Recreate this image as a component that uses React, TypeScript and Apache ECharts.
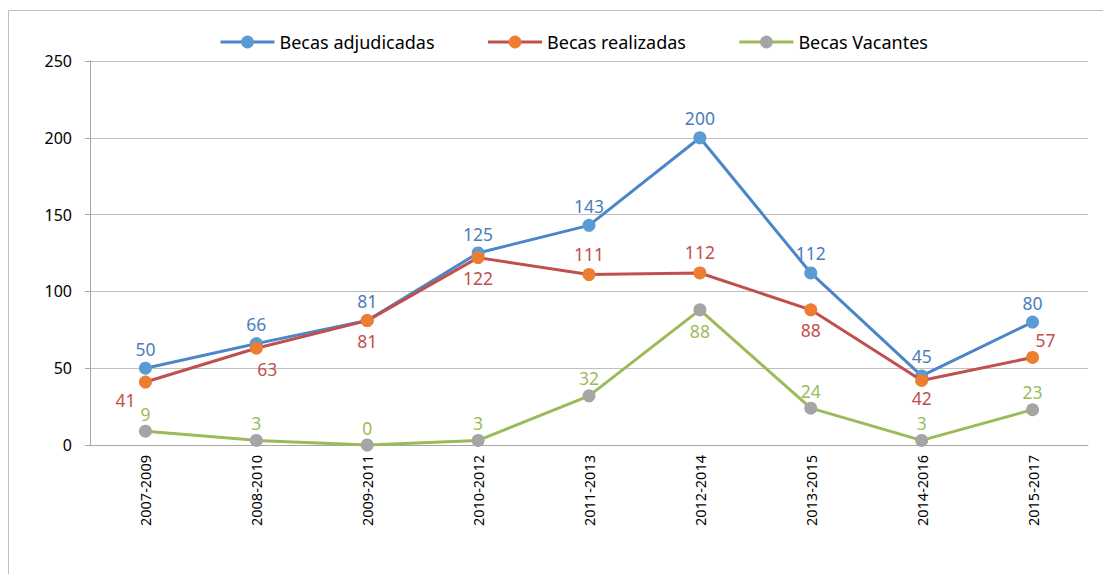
import React, { useEffect, useRef } from "react";
import * as echarts from "echarts";

const categories = ["2007-2009", "2008-2010", "2009-2011", "2010-2012", "2011-2013", "2012-2014", "2013-2015", "2014-2016", "2015-2017"];
const adjudicadas = [50, 66, 81, 125, 143, 200, 112, 45, 80];
const realizadas = [41, 63, 81, 122, 111, 112, 88, 42, 57];
const vacantes = [9, 3, 0, 3, 32, 88, 24, 3, 23];
const yTicks = [0, 50, 100, 150, 200, 250];

const FONT = "'Noto Sans', 'Open Sans', sans-serif";

export default function App() {
  const ref = useRef<HTMLDivElement>(null);
  useEffect(() => {
    if (!ref.current) return;
    const chart = echarts.init(ref.current, null, { renderer: "svg" });

    const realPos = (i: number) => {
      if (i === 0) return { position: "bottom", offset: [-20, -3] };
      if (i === 1) return { position: "bottom", offset: [11, 0] };
      if (i === 4 || i === 5) return { position: "top", distance: 5 };
      if (i === 7) return { position: "bottom", distance: 2 };
      if (i === 8) return { position: "top", offset: [13, 3] };
      return { position: "bottom", distance: 5 };
    };
    const vacPos = (i: number) => (i === 5 ? { position: "bottom", distance: 6 } : { position: "top", distance: 2 });

    const option: any = {
      animation: false,
      backgroundColor: "#ffffff",
      textStyle: { fontFamily: FONT },
      graphic: [
        {
          type: "rect",
          shape: { x: 8.5, y: 10.5, width: 1200, height: 1000 },
          style: { fill: "none", stroke: "#BFBFBF", lineWidth: 1 },
          silent: true,
          z: -1,
        },
      ],
      legend: {
        top: 28,
        left: 214,
        itemWidth: 54,
        itemHeight: 16,
        itemGap: 52,
        lineStyle: { width: 3 },
        textStyle: { fontFamily: FONT, fontSize: 18, color: "#000" },
        data: ["Becas adjudicadas", "Becas realizadas", "Becas Vacantes"],
      },
      grid: { left: 90, right: 15, top: 61, bottom: 129, containLabel: false },
      xAxis: {
        type: "category",
        data: categories,
        boundaryGap: true,
        axisLine: { lineStyle: { color: "#A6A6A6", width: 1 } },
        axisTick: { alignWithLabel: true, length: 5, lineStyle: { color: "#A6A6A6" } },
        axisLabel: { rotate: 90, color: "#000", fontSize: 14.5, fontFamily: FONT, margin: 10 },
        splitLine: { show: false },
      },
      yAxis: {
        type: "value",
        min: yTicks[0],
        max: yTicks[yTicks.length - 1],
        interval: 50,
        axisLine: { show: true, lineStyle: { color: "#A6A6A6", width: 1 } },
        axisTick: { show: true, length: 5, lineStyle: { color: "#A6A6A6" } },
        axisLabel: { color: "#000", fontSize: 16, fontFamily: FONT, margin: 18 },
        splitLine: { show: true, lineStyle: { color: "#BFBFBF", width: 1 } },
      },
      series: [
        {
          name: "Becas adjudicadas",
          type: "line",
          data: adjudicadas,
          symbol: "circle",
          symbolSize: 13,
          z: 3,
          lineStyle: { color: "#4A86C8", width: 3 },
          itemStyle: { color: "#5B9BD5", borderWidth: 0 },
          label: { show: true, position: "top", distance: 4, color: "#4A7EBB", fontSize: 17.5, fontFamily: FONT },
        },
        {
          name: "Becas realizadas",
          type: "line",
          z: 4,
          data: realizadas.map((v, i) => ({ value: v, label: realPos(i) })),
          symbol: "circle",
          symbolSize: 13,
          lineStyle: { color: "#C0504D", width: 3 },
          itemStyle: { color: "#ED7D31", borderWidth: 0 },
          label: { show: true, color: "#C0504D", fontSize: 17.5, fontFamily: FONT },
        },
        {
          name: "Becas Vacantes",
          type: "line",
          z: 2,
          data: vacantes.map((v, i) => ({ value: v, label: vacPos(i) })),
          symbol: "circle",
          symbolSize: 13,
          lineStyle: { color: "#9BBB59", width: 3 },
          itemStyle: { color: "#A5A5A5", borderWidth: 0 },
          label: { show: true, color: "#9BBB59", fontSize: 17.5, fontFamily: FONT },
        },
      ],
    };
    chart.setOption(option);
    return () => chart.dispose();
  }, []);

  return (
    <div
      ref={ref}
      style={{ position: "fixed", left: 0, top: 0, width: 1103, height: 574 }}
    />
  );
}
